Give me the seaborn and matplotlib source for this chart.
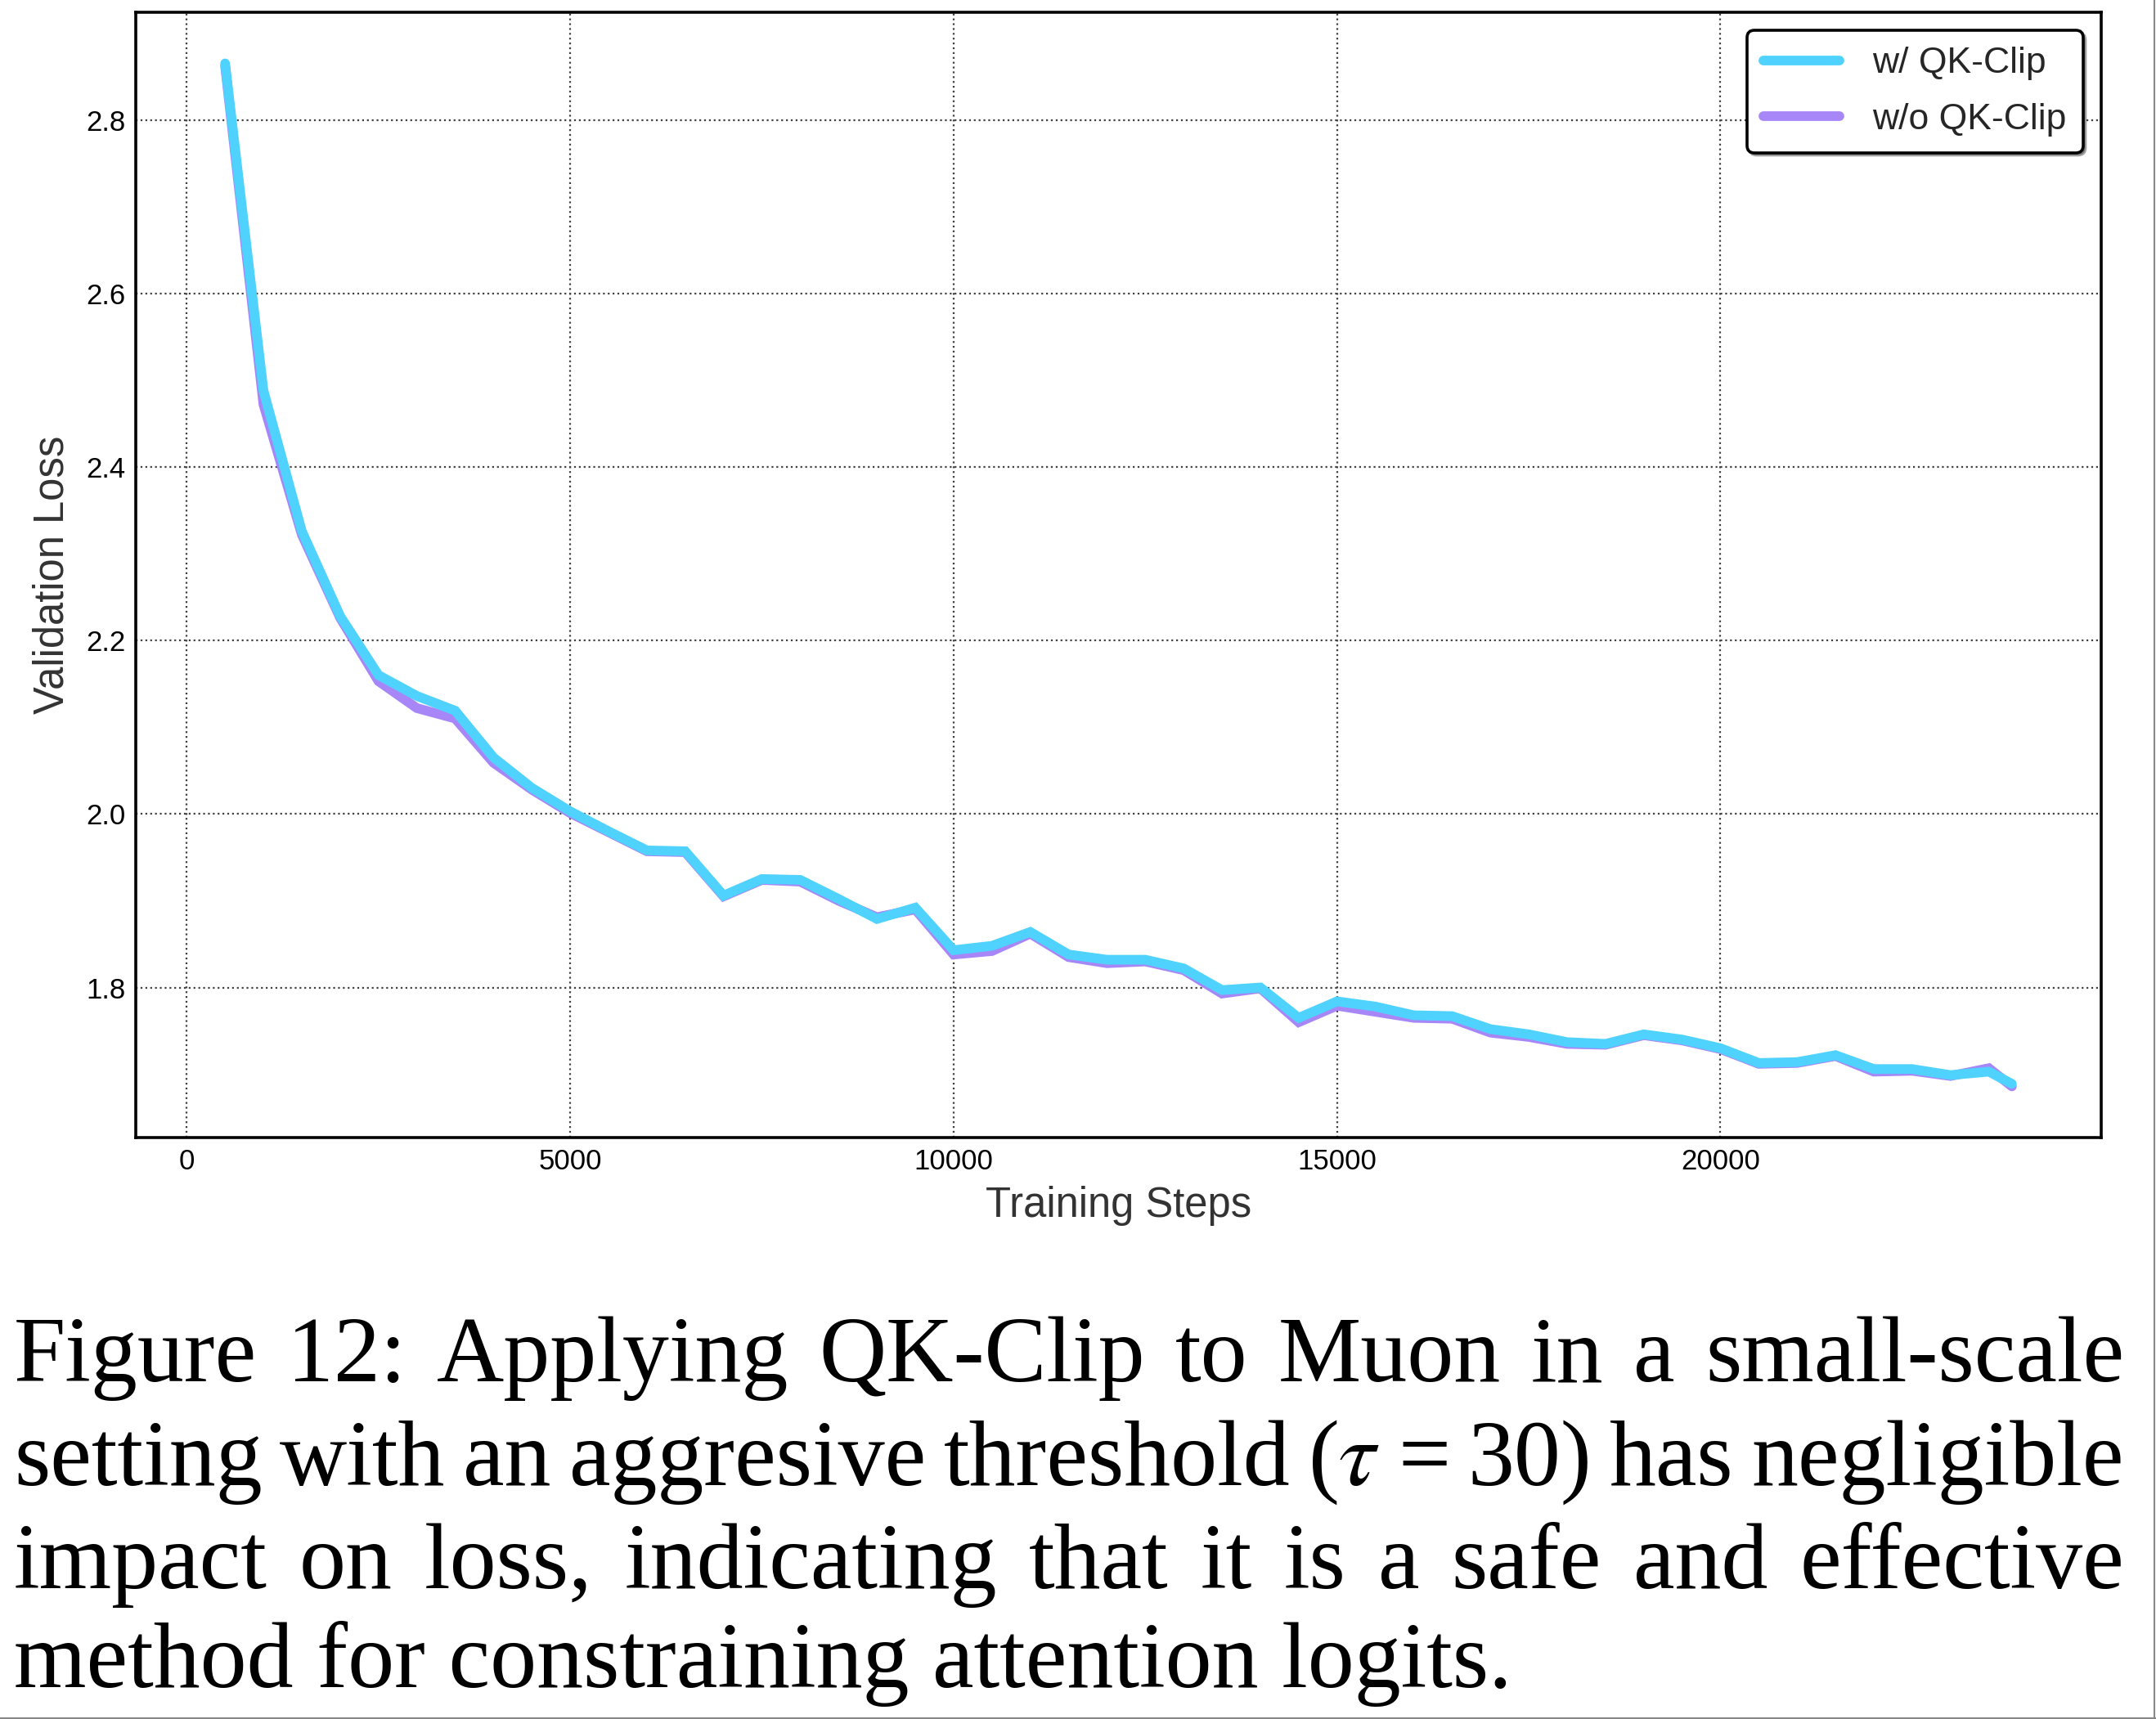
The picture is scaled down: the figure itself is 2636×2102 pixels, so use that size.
import pandas as pd
import matplotlib
matplotlib.use('Agg')
import matplotlib.pyplot as plt
import seaborn as sns

# training steps and validation loss
steps = [500, 1000, 1500, 2000, 2500, 3000, 3500, 4000, 4500, 5000,
         5500, 6000, 6500, 7000, 7500, 8000, 8500, 9000, 9500, 10000,
         10500, 11000, 11500, 12000, 12500, 13000, 13500, 14000, 14500, 15000,
         15500, 16000, 16500, 17000, 17500, 18000, 18500, 19000, 19500, 20000,
         20500, 21000, 21500, 22000, 22500, 23000, 23500, 23800]

loss_clip = [2.865, 2.488, 2.326, 2.228, 2.160, 2.136, 2.119, 2.065, 2.030, 2.003,
             1.980, 1.958, 1.957, 1.906, 1.925, 1.924, 1.902, 1.879, 1.892, 1.843,
             1.848, 1.864, 1.838, 1.832, 1.832, 1.822, 1.797, 1.800, 1.765, 1.784,
             1.778, 1.768, 1.767, 1.752, 1.746, 1.737, 1.735, 1.746, 1.740, 1.730,
             1.713, 1.714, 1.722, 1.706, 1.706, 1.699, 1.703, 1.689]

loss_noclip = [2.862, 2.472, 2.322, 2.226, 2.153, 2.122, 2.110, 2.059, 2.028, 2.001,
               1.979, 1.957, 1.956, 1.905, 1.924, 1.922, 1.900, 1.881, 1.890, 1.838,
               1.842, 1.862, 1.835, 1.828, 1.830, 1.820, 1.793, 1.799, 1.760, 1.779,
               1.772, 1.765, 1.764, 1.748, 1.743, 1.735, 1.734, 1.745, 1.739, 1.729,
               1.712, 1.713, 1.721, 1.703, 1.704, 1.698, 1.707, 1.686]

series_names = ['w/ QK-Clip', 'w/o QK-Clip']
series_colors = ['#4fd3fe', '#a787f8']

caption_lines = [
    'Figure 12: Applying QK-Clip to Muon in a small-scale',
    r'setting with an aggresive threshold ($\tau$ = 30) has negligible',
    'impact on loss, indicating that it is a safe and effective',
    'method for constraining attention logits.',
]

df = pd.concat([
    pd.DataFrame({'step': steps, 'loss': loss_clip, 'run': series_names[0]}),
    pd.DataFrame({'step': steps, 'loss': loss_noclip, 'run': series_names[1]}),
])

sns.set_style("whitegrid")
plt.rcParams['font.family'] = ['Liberation Sans', 'DejaVu Sans']
plt.rcParams['mathtext.fontset'] = 'stix'

W, H = 2636, 2102
fig = plt.figure(figsize=(W / 100, H / 100), dpi=100)
ax = fig.add_axes([166 / W, 1 - 1391 / H, (2569 - 166) / W, (1391 - 15) / H])

sns.lineplot(data=df, x='step', y='loss', hue='run', hue_order=series_names,
             palette=series_colors, linewidth=8.5, ax=ax,
             solid_capstyle='round', solid_joinstyle='miter')
# keep the cyan run on top
ax.lines[0].set_zorder(4)
ax.lines[1].set_zorder(3)

ax.margins(x=0.05, y=0.05)
ax.set_xticks([0, 5000, 10000, 15000, 20000])
ax.set_yticks([1.8, 2.0, 2.2, 2.4, 2.6, 2.8])
ax.grid(True, linestyle=':', color='#404040', linewidth=1.6)
for s in ax.spines.values():
    s.set_color('black')
    s.set_linewidth(2.6)
ax.tick_params(length=0, labelsize=25, labelcolor='black')
ax.tick_params(axis='x', pad=9)
ax.tick_params(axis='y', pad=9)
ax.set_xlabel('Training Steps', fontsize=36.5, color='#333333', labelpad=10)
ax.set_ylabel('Validation Loss', fontsize=36.5, color='#333333', labelpad=12)

leg = ax.legend(loc='upper right', fontsize=32, fancybox=True, shadow=True,
                framealpha=1, edgecolor='black', handlelength=2.1,
                borderaxespad=0.5, labelspacing=0.62, handletextpad=0.9,
                borderpad=0.45)
leg.get_frame().set_linewidth(2.6)
for t in leg.get_texts():
    t.set_color('#262626')
for h in leg.get_lines():
    h.set_linewidth(8.5)
    h.set_solid_capstyle('round')

# caption, justified like the paper
renderer = fig.canvas.get_renderer()
cap_left, cap_right = 17, 2597
baselines = [1689, 1816, 1942, 2063]
cap_kw = dict(fontsize=82, family='Liberation Serif', color='black', va='baseline', ha='left')
for i, line in enumerate(caption_lines):
    y = 1 - baselines[i] / H
    if i == len(caption_lines) - 1:
        fig.text(cap_left / W, y, line, **cap_kw)
        continue
    words = line.split(' ')
    texts = [fig.text(0, y, w, **cap_kw) for w in words]
    widths = [t.get_window_extent(renderer).width for t in texts]
    gap = (cap_right - cap_left - sum(widths)) / (len(texts) - 1)
    x = cap_left
    for t, w in zip(texts, widths):
        t.set_x(x / W)
        x += w + gap

fig.add_artist(plt.Line2D([0, 1], [1 / H, 1 / H], transform=fig.transFigure, color='#888888', lw=1.5))
fig.add_artist(plt.Line2D([1 - 2 / W, 1 - 2 / W], [0, 1], transform=fig.transFigure, color='#888888', lw=1.5))

fig.savefig('out.png', dpi=100)
plt.close()
